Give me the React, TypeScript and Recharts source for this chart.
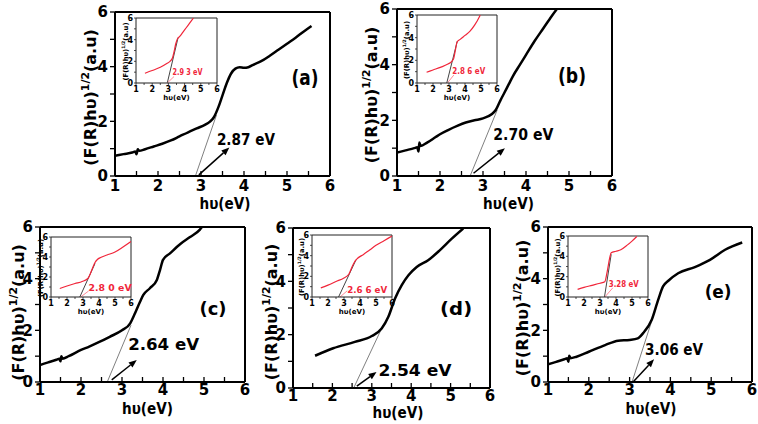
import React from 'react';
import { LineChart, Line, XAxis, YAxis, ReferenceLine, ReferenceDot } from 'recharts';

type Pt = [number, number];

// main curves: (F(R)hv)^1/2 against hv (eV)
const curveA: Pt[] = [
  [1.0, 0.74], [1.2, 0.8], [1.4, 0.86], [1.47, 0.9], [1.5, 0.8], [1.53, 0.98], [1.56, 0.92],
  [1.7, 0.98], [1.9, 1.08], [2.1, 1.18], [2.3, 1.3], [2.5, 1.45], [2.7, 1.6], [2.9, 1.74],
  [3.1, 1.88], [3.2, 1.98], [3.3, 2.15], [3.4, 2.5], [3.5, 2.95], [3.6, 3.4], [3.7, 3.75],
  [3.8, 3.93], [3.9, 3.98], [4.0, 3.96], [4.1, 3.98], [4.2, 4.06], [4.4, 4.2], [4.6, 4.4],
  [4.8, 4.62], [5.0, 4.84], [5.2, 5.06], [5.4, 5.3], [5.57, 5.49],
];
const curveB: Pt[] = [
  [1.0, 0.84], [1.2, 0.92], [1.4, 1.0], [1.47, 1.03], [1.5, 0.88], [1.52, 1.2], [1.55, 1.08],
  [1.7, 1.2], [1.9, 1.4], [2.0, 1.5], [2.2, 1.66], [2.4, 1.8], [2.6, 1.92], [2.8, 2.0],
  [3.0, 2.07], [3.2, 2.22], [3.3, 2.38], [3.4, 2.7], [3.5, 3.0], [3.6, 3.3], [3.7, 3.6],
  [3.86, 4.0], [4.0, 4.35], [4.2, 4.85], [4.4, 5.3], [4.6, 5.75], [4.72, 6.0],
];
const curveC: Pt[] = [
  [1.0, 0.66], [1.2, 0.76], [1.4, 0.86], [1.47, 0.9], [1.5, 0.8], [1.52, 1.0], [1.55, 0.9],
  [1.7, 1.0], [2.0, 1.24], [2.2, 1.37], [2.46, 1.56], [2.7, 1.75], [3.0, 2.0], [3.2, 2.27],
  [3.3, 2.6], [3.44, 3.11], [3.52, 3.37], [3.68, 3.63], [3.85, 3.95], [3.93, 4.35],
  [4.0, 4.73], [4.17, 4.98], [4.43, 5.35], [4.65, 5.6], [4.9, 5.9], [4.95, 6.0],
];
const curveD: Pt[] = [
  [1.56, 1.21], [2.02, 1.49], [2.57, 1.73], [3.0, 1.95], [3.25, 2.23], [3.42, 2.67],
  [3.59, 3.36], [3.76, 3.86], [3.93, 4.23], [4.14, 4.54], [4.43, 4.79], [4.73, 5.17],
  [5.03, 5.6], [5.32, 5.98],
];
const curveE: Pt[] = [
  [1.0, 0.68], [1.2, 0.78], [1.4, 0.88], [1.47, 0.92], [1.5, 0.78], [1.52, 1.02], [1.55, 0.92],
  [1.7, 0.98], [2.0, 1.17], [2.4, 1.43], [2.72, 1.6], [3.0, 1.63], [3.2, 1.69], [3.33, 1.89],
  [3.54, 2.4], [3.7, 3.18], [3.82, 3.7], [3.95, 3.92], [4.19, 4.21], [4.6, 4.45],
  [4.97, 4.73], [5.34, 5.12], [5.76, 5.4],
];

// inset curves
const insetCurveA: Pt[] = [
  [1.55, 0.9], [2.0, 1.15], [2.5, 1.45], [2.9, 1.8], [3.1, 2.0], [3.25, 2.3], [3.35, 2.9],
  [3.45, 3.6], [3.55, 4.05], [3.7, 4.3], [3.9, 4.7], [4.1, 5.1], [4.3, 5.5], [4.55, 6.0],
];
const insetCurveB: Pt[] = [
  [1.6, 0.95], [2.0, 1.15], [2.5, 1.4], [2.9, 1.65], [3.2, 1.95], [3.3, 2.2], [3.4, 2.9],
  [3.5, 3.6], [3.7, 3.85], [4.0, 4.2], [4.3, 4.55], [4.6, 5.1], [4.9, 5.85], [4.95, 6.0],
];
const insetCurveC: Pt[] = [
  [1.55, 0.85], [2.0, 1.1], [2.5, 1.35], [2.95, 1.55], [3.3, 1.85], [3.45, 2.3], [3.6, 2.9],
  [3.75, 3.45], [3.9, 3.75], [4.1, 3.95], [4.5, 4.2], [5.0, 4.5], [5.5, 5.0], [6.0, 5.55],
];
const insetCurveD: Pt[] = [
  [1.55, 0.88], [2.0, 1.15], [2.5, 1.5], [3.0, 1.85], [3.3, 2.2], [3.5, 2.9], [3.7, 3.5],
  [3.85, 3.75], [4.2, 4.1], [4.6, 4.55], [5.0, 5.0], [5.5, 5.45], [6.0, 5.9],
];
const insetCurveE: Pt[] = [
  [1.6, 0.75], [2.0, 0.95], [2.5, 1.15], [3.0, 1.35], [3.3, 1.5], [3.45, 2.5], [3.6, 3.8],
  [3.7, 4.35], [4.0, 4.5], [4.3, 4.65], [4.7, 5.1], [5.0, 5.5], [5.3, 5.95],
];

// tangent lines (intercept -> curve) and arrows (intercept -> label)
const tangents: Pt[][] = [
  [[2.87, 0], [3.36, 2.23]],
  [[2.70, 0], [3.33, 2.37]],
  [[2.64, 0], [3.22, 2.2]],
  [[2.54, 0], [3.29, 2.36]],
  [[3.06, 0], [3.53, 2.3]],
];
const arrows: Pt[][] = [
  [[2.95, 0.04], [3.66, 1.04]],
  [[2.78, 0.1], [3.51, 1.0]],
  [[2.75, 0.08], [3.36, 0.85]],
  [[2.62, 0.07], [3.12, 0.6]],
  [[3.09, 0.01], [3.6, 0.88]],
];
const insetTangents: Pt[][] = [
  [[2.93, 0], [3.6, 4.2]],
  [[2.86, 0], [3.52, 3.7]],
  [[2.8, 0], [3.75, 3.35]],
  [[2.66, 0], [3.75, 3.6]],
  [[3.28, 0], [3.7, 4.2]],
];
const insetPointers: Pt[][] = [
  [[2.93, 0], [3.35, 0.6]],
  [[2.9, 0], [3.3, 0.7]],
  [[2.85, 0], [3.35, 0.6]],
  [[2.75, 0], [3.2, 0.6]],
  [[3.3, 0], [3.8, 0.9]],
];

const gapLabels = ['2.87 eV', '2.70 eV', '2.64 eV', '2.54 eV', '3.06 eV'];
const insetGapLabels = ['2.9 3 eV', '2.8 6 eV', '2.8 0 eV', '2.6 6 eV', '3.28 eV'];
const panelLetters = ['(a)', '(b)', '(c)', '(d)', '(e)'];
const xTicks = [1, 1.5, 2, 2.5, 3, 3.5, 4, 4.5, 5, 5.5, 6];
const yTicks = [0, 1, 2, 3, 4, 5, 6];

const curves = [curveA, curveB, curveC, curveD, curveE];
const insetCurves = [insetCurveA, insetCurveB, insetCurveC, insetCurveD, insetCurveE];

// layout, pixel boxes of plot areas + label placement
const layout = [
  { box: [115, 12, 330, 176], ylab: [-19, 3.5], xlab: [2.5, 33], tm: 9, gapAt: [3.37, 1.14], gapW: 58, letterAt: [5.42, 3.33], letterSize: 21, letterW: 27, inset: [136, 18, 217, 83], insetAt: [3.25, 0.75], insetW: 30 },
  { box: [397, 9, 612, 176], ylab: [-20, 2.5], xlab: [4, 33], tm: 9, gapAt: [3.24, 1.3], gapW: 60, letterAt: [5.07, 3.35], letterSize: 21, letterW: 28, inset: [417, 15, 497, 83], insetAt: [3.2, 0.8], insetW: 33 },
  { box: [40, 227, 245, 382], ylab: [-16, 8], xlab: [5, 32], tm: 7, gapAt: [3.15, 1.24], gapW: 71, letterAt: [5.22, 2.6], letterSize: 18, letterW: 27, inset: [51, 237, 131, 297], insetAt: [3.35, 0.65], insetW: 43 },
  { box: [293, 228, 490, 388], ylab: [-16, 4], xlab: [6.5, 30], tm: 7, gapAt: [3.17, 0.45], gapW: 73, letterAt: [5.14, 2.73], letterSize: 18, letterW: 32, inset: [312, 235, 392, 297], insetAt: [3.2, 0.4], insetW: 40 },
  { box: [548, 227, 752, 382], ylab: [-20, 3.5], xlab: [1, 32], tm: 7, gapAt: [3.38, 1.05], gapW: 58, letterAt: [5.17, 3.26], letterSize: 18, letterW: 27, inset: [568, 236, 648, 297], insetAt: [3.55, 1.0], insetW: 30 },
];

const FONT = '"DejaVu Sans", Verdana, sans-serif';
const RED = '#f0263a';

const rowsOf = (pts: Pt[]) => pts.map(([x, y]) => ({ x, y }));
const seg = (pts: Pt[]) => pts.map(([x, y]) => ({ x, y }));
const intLabel = (v: number) => (Number.isInteger(v) ? String(v) : '');
const evenLabel = (v: number) => (v % 2 === 0 ? String(v) : '');

function YTitle({ x, y, size }: { x: number; y: number; size: number }) {
  return (
    <text x={x} y={y} transform={`rotate(-90 ${x} ${y})`} textAnchor="middle"
      fontFamily={FONT} fontWeight={700} fontSize={size} fill="#000">
      (F(R)hυ)
      <tspan dy={-size * 0.42} fontSize={size * 0.68}>1/2</tspan>
      <tspan dy={size * 0.42}>(a.u)</tspan>
    </text>
  );
}

const arrowShape = (p: any) => {
  const { x1, y1, x2, y2 } = p;
  const a = Math.atan2(y2 - y1, x2 - x1);
  const L = 8, W = 3.2;
  const bx = x2 - L * Math.cos(a);
  const by = y2 - L * Math.sin(a);
  const pts = `${x2},${y2} ${bx - W * Math.sin(a)},${by + W * Math.cos(a)} ${bx + W * Math.sin(a)},${by - W * Math.cos(a)}`;
  return (
    <g>
      <line x1={x1} y1={y1} x2={bx} y2={by} stroke="#000" strokeWidth={1.5} />
      <polygon points={pts} fill="#000" />
    </g>
  );
};

function MainPanel({ i }: { i: number }) {
  const cfg = layout[i];
  const [x0, y0, x1, y1] = cfg.box;
  const YW = 48, XH = 42, MT = 8, MR = 6;
  const pw = x1 - x0, ph = y1 - y0;
  const tickStyle = { fill: '#000', fontSize: 15, fontWeight: 700, fontFamily: FONT };
  return (
    <div style={{ position: 'absolute', left: x0 - YW, top: y0 - MT }}>
      <LineChart width={pw + YW + MR} height={ph + MT + XH} data={rowsOf(curves[i])}
        margin={{ top: MT, right: MR, bottom: 0, left: 0 }}>
        <XAxis type="number" dataKey="x" domain={[1, 6]} ticks={xTicks} interval={0} allowDataOverflow
          tickFormatter={intLabel} height={XH} tickSize={-5} tickMargin={cfg.tm}
          axisLine={{ stroke: '#000', strokeWidth: 2 }} tickLine={{ stroke: '#000', strokeWidth: 1.3 }}
          tick={tickStyle}
          label={() => (
            <text x={YW + pw / 2 + cfg.xlab[0]} y={MT + ph + cfg.xlab[1]} textAnchor="middle"
              fontFamily={FONT} fontWeight={700} fontSize={16} fill="#000"
              textLength={51} lengthAdjust="spacingAndGlyphs">hυ(eV)</text>
          )}
        />
        <YAxis type="number" domain={[0, 6]} ticks={yTicks} interval={0} allowDataOverflow
          tickFormatter={evenLabel} width={YW} tickSize={5} tickMargin={2}
          axisLine={{ stroke: '#000', strokeWidth: 2 }} tickLine={{ stroke: '#000', strokeWidth: 1.3 }}
          tick={tickStyle}
          label={() => <YTitle x={YW + cfg.ylab[0]} y={MT + ph / 2 + cfg.ylab[1]} size={16} />}
        />
        <ReferenceLine y={6} stroke="#000" strokeWidth={2} />
        <ReferenceLine x={6} stroke="#000" strokeWidth={2} />
        <ReferenceLine segment={seg(tangents[i])} stroke="#808080" strokeWidth={1} />
        <ReferenceLine segment={seg(arrows[i])} shape={arrowShape} />
        <Line type="monotone" dataKey="y" stroke="#000" strokeWidth={2.5} dot={false} isAnimationActive={false} />
        <ReferenceDot x={cfg.gapAt[0]} y={cfg.gapAt[1]} r={0} ifOverflow="visible"
          shape={(p: any) => (
            <text x={p.cx} y={p.cy} fontFamily={FONT} fontWeight={700} fontSize={16} fill="#000"
              textLength={cfg.gapW} lengthAdjust="spacingAndGlyphs">{gapLabels[i]}</text>
          )}
        />
        <ReferenceDot x={cfg.letterAt[0]} y={cfg.letterAt[1]} r={0} ifOverflow="visible"
          shape={(p: any) => (
            <text x={p.cx} y={p.cy} textAnchor="middle" fontFamily={FONT} fontWeight={700}
              fontSize={cfg.letterSize} fill="#000" textLength={cfg.letterW}
              lengthAdjust="spacingAndGlyphs">{panelLetters[i]}</text>
          )}
        />
      </LineChart>
    </div>
  );
}

function InsetPanel({ i }: { i: number }) {
  const cfg = layout[i];
  const [x0, y0, x1, y1] = cfg.inset;
  const YW = 22, XH = 20, MT = 5, MR = 4;
  const pw = x1 - x0, ph = y1 - y0;
  const tickStyle = { fill: '#000', fontSize: 8, fontWeight: 700, fontFamily: FONT };
  return (
    <div style={{ position: 'absolute', left: x0 - YW, top: y0 - MT }}>
      <LineChart width={pw + YW + MR} height={ph + MT + XH} data={rowsOf(insetCurves[i])}
        margin={{ top: MT, right: MR, bottom: 0, left: 0 }}>
        <XAxis type="number" dataKey="x" domain={[1, 6]} ticks={xTicks} interval={0} allowDataOverflow
          tickFormatter={intLabel} height={XH} tickSize={2} tickMargin={1}
          axisLine={{ stroke: '#222', strokeWidth: 1 }} tickLine={{ stroke: '#222', strokeWidth: 0.8 }}
          tick={tickStyle}
          label={() => (
            <text x={YW + pw / 2} y={MT + ph + 17} textAnchor="middle" fontFamily={FONT}
              fontWeight={700} fontSize={7} fill="#000">hυ(eV)</text>
          )}
        />
        <YAxis type="number" domain={[0, 6]} ticks={yTicks} interval={0} allowDataOverflow
          tickFormatter={evenLabel} width={YW} tickSize={2} tickMargin={1}
          axisLine={{ stroke: '#222', strokeWidth: 1 }} tickLine={{ stroke: '#222', strokeWidth: 0.8 }}
          tick={tickStyle}
          label={() => <YTitle x={YW - 8} y={MT + ph / 2 + 1} size={6.8} />}
        />
        <ReferenceLine y={6} stroke="#222" strokeWidth={1} />
        <ReferenceLine x={6} stroke="#222" strokeWidth={1} />
        <ReferenceLine segment={seg(insetTangents[i])} stroke="#444" strokeWidth={1} />
        <ReferenceLine segment={seg(insetPointers[i])} stroke="#ff8a98" strokeWidth={1} />
        <Line type="monotone" dataKey="y" stroke={RED} strokeWidth={1.2} dot={false} isAnimationActive={false} />
        <ReferenceDot x={cfg.insetAt[0]} y={cfg.insetAt[1]} r={0} ifOverflow="visible"
          shape={(p: any) => (
            <text x={p.cx} y={p.cy} fontFamily={FONT} fontWeight={700} fontSize={9} fill={RED}
              textLength={cfg.insetW} lengthAdjust="spacingAndGlyphs">{insetGapLabels[i]}</text>
          )}
        />
      </LineChart>
    </div>
  );
}

export default function App() {
  return (
    <div style={{ position: 'absolute', left: 0, top: 0, width: 758, height: 424, background: '#fff', overflow: 'hidden' }}>
      {layout.map((_, i) => <MainPanel key={`m${i}`} i={i} />)}
      {layout.map((_, i) => <InsetPanel key={`s${i}`} i={i} />)}
    </div>
  );
}
